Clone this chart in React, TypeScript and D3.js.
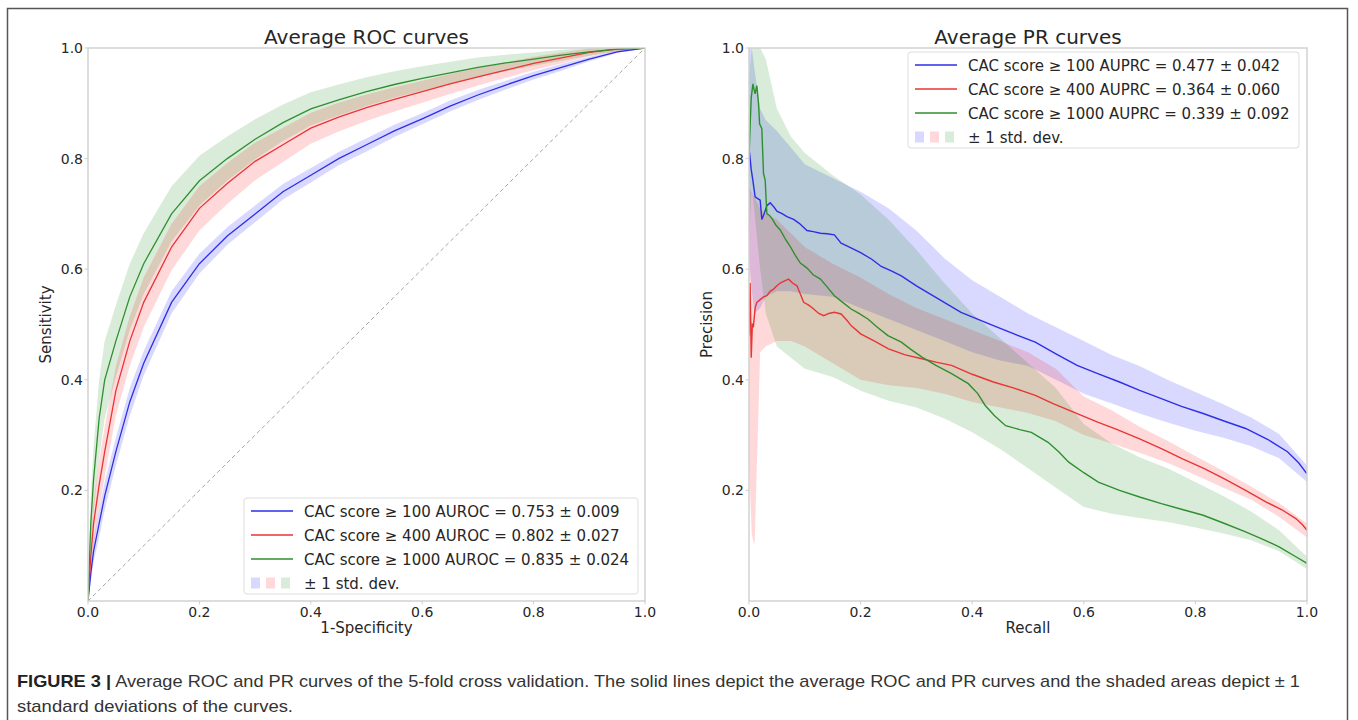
import React from "react";
import * as d3 from "d3";

// ---------- ROC data ----------
const rocFpr = [0, 0.005, 0.01, 0.02, 0.03, 0.05, 0.075, 0.1, 0.15, 0.2, 0.25, 0.3, 0.35, 0.4, 0.45, 0.5, 0.55, 0.6, 0.65, 0.7, 0.75, 0.8, 0.85, 0.9, 0.95, 1.0];
const rocTpr100 = [0, 0.05, 0.09, 0.14, 0.19, 0.27, 0.36, 0.43, 0.54, 0.61, 0.66, 0.70, 0.74, 0.77, 0.80, 0.825, 0.85, 0.872, 0.895, 0.915, 0.933, 0.95, 0.965, 0.98, 0.993, 1];
const rocTpr400 = [0, 0.08, 0.14, 0.21, 0.27, 0.38, 0.47, 0.54, 0.64, 0.71, 0.755, 0.795, 0.825, 0.855, 0.875, 0.892, 0.907, 0.921, 0.935, 0.948, 0.96, 0.972, 0.982, 0.992, 0.998, 1];
const rocTpr1000 = [0, 0.14, 0.22, 0.33, 0.40, 0.47, 0.55, 0.61, 0.70, 0.76, 0.80, 0.835, 0.865, 0.89, 0.906, 0.921, 0.934, 0.945, 0.955, 0.965, 0.973, 0.98, 0.987, 0.993, 0.998, 1];
const rocStd100 = [0, 0.015, 0.02, 0.025, 0.025, 0.025, 0.025, 0.022, 0.02, 0.018, 0.016, 0.015, 0.014, 0.013, 0.012, 0.012, 0.011, 0.01, 0.01, 0.009, 0.008, 0.007, 0.006, 0.004, 0.002, 0];
const rocStd400 = [0, 0.03, 0.04, 0.045, 0.045, 0.045, 0.045, 0.045, 0.042, 0.04, 0.037, 0.034, 0.031, 0.028, 0.026, 0.024, 0.022, 0.02, 0.018, 0.016, 0.014, 0.012, 0.01, 0.007, 0.004, 0];
const rocStd1000 = [0, 0.05, 0.06, 0.07, 0.07, 0.065, 0.06, 0.055, 0.05, 0.045, 0.04, 0.036, 0.033, 0.03, 0.028, 0.026, 0.024, 0.022, 0.02, 0.018, 0.015, 0.012, 0.01, 0.007, 0.004, 0];

// ---------- PR data ----------
const prRec100 = [0, 0.002, 0.004, 0.007, 0.011, 0.015, 0.02, 0.023, 0.027, 0.032, 0.038, 0.045, 0.05, 0.06, 0.068, 0.08, 0.09, 0.104, 0.115, 0.128, 0.14, 0.153, 0.165, 0.18, 0.2, 0.22, 0.237, 0.255, 0.273, 0.3, 0.34, 0.38, 0.438, 0.475, 0.513, 0.55, 0.588, 0.625, 0.664, 0.7, 0.739, 0.775, 0.814, 0.85, 0.89, 0.93, 0.965, 0.985, 1.0];
const prPre100 = [0.818, 0.80, 0.78, 0.76, 0.731, 0.728, 0.725, 0.69, 0.70, 0.715, 0.72, 0.712, 0.705, 0.70, 0.695, 0.69, 0.683, 0.67, 0.668, 0.665, 0.664, 0.662, 0.647, 0.64, 0.63, 0.618, 0.605, 0.597, 0.588, 0.57, 0.546, 0.522, 0.498, 0.483, 0.468, 0.447, 0.426, 0.411, 0.396, 0.381, 0.366, 0.352, 0.339, 0.326, 0.312, 0.292, 0.27, 0.25, 0.23];

const prRec400 = [0, 0.002, 0.004, 0.006, 0.008, 0.011, 0.014, 0.02, 0.026, 0.032, 0.038, 0.044, 0.05, 0.056, 0.062, 0.071, 0.078, 0.086, 0.092, 0.098, 0.107, 0.116, 0.125, 0.134, 0.143, 0.153, 0.165, 0.175, 0.183, 0.2, 0.225, 0.25, 0.28, 0.31, 0.335, 0.363, 0.4, 0.438, 0.475, 0.513, 0.545, 0.573, 0.6, 0.626, 0.66, 0.7, 0.74, 0.777, 0.815, 0.852, 0.89, 0.927, 0.955, 0.98, 0.992, 1.0];
const prPre400 = [0.48, 0.575, 0.44, 0.50, 0.497, 0.53, 0.54, 0.545, 0.55, 0.552, 0.56, 0.564, 0.57, 0.575, 0.578, 0.582, 0.575, 0.57, 0.555, 0.54, 0.535, 0.528, 0.52, 0.516, 0.52, 0.522, 0.519, 0.508, 0.498, 0.483, 0.47, 0.456, 0.445, 0.438, 0.432, 0.426, 0.41, 0.396, 0.385, 0.372, 0.357, 0.345, 0.334, 0.323, 0.31, 0.293, 0.275, 0.257, 0.24, 0.221, 0.2, 0.179, 0.165, 0.149, 0.138, 0.128];

const prRec1000 = [0, 0.002, 0.004, 0.007, 0.009, 0.011, 0.014, 0.017, 0.019, 0.023, 0.026, 0.029, 0.032, 0.036, 0.041, 0.048, 0.056, 0.065, 0.074, 0.083, 0.092, 0.104, 0.115, 0.128, 0.14, 0.153, 0.168, 0.183, 0.197, 0.213, 0.23, 0.249, 0.273, 0.29, 0.31, 0.335, 0.363, 0.393, 0.41, 0.423, 0.44, 0.46, 0.485, 0.506, 0.536, 0.555, 0.573, 0.6, 0.626, 0.664, 0.7, 0.739, 0.775, 0.814, 0.85, 0.89, 0.92, 0.95, 0.98, 1.0];
const prPre1000 = [0.80, 0.86, 0.91, 0.935, 0.925, 0.917, 0.932, 0.90, 0.863, 0.854, 0.773, 0.761, 0.70, 0.698, 0.692, 0.68, 0.671, 0.655, 0.641, 0.625, 0.611, 0.602, 0.59, 0.582, 0.568, 0.552, 0.54, 0.528, 0.52, 0.51, 0.495, 0.48, 0.468, 0.455, 0.441, 0.426, 0.411, 0.393, 0.375, 0.354, 0.335, 0.317, 0.31, 0.305, 0.287, 0.27, 0.251, 0.232, 0.215, 0.2, 0.188, 0.176, 0.166, 0.155, 0.141, 0.125, 0.112, 0.098, 0.08, 0.068];

// std-dev band edges (PR), on their own recall grid
const prBandRec = [0, 0.005, 0.01, 0.02, 0.03, 0.05, 0.075, 0.1, 0.15, 0.2, 0.25, 0.3, 0.35, 0.4, 0.45, 0.5, 0.55, 0.6, 0.65, 0.7, 0.75, 0.8, 0.85, 0.9, 0.95, 1.0];
const prHi100 = [1.0, 1.0, 0.96, 0.89, 0.87, 0.85, 0.82, 0.79, 0.765, 0.74, 0.71, 0.67, 0.62, 0.58, 0.55, 0.52, 0.495, 0.47, 0.445, 0.425, 0.40, 0.378, 0.356, 0.332, 0.302, 0.245];
const prLo100 = [0.62, 0.56, 0.52, 0.53, 0.55, 0.56, 0.56, 0.555, 0.55, 0.53, 0.51, 0.49, 0.47, 0.45, 0.435, 0.425, 0.40, 0.375, 0.357, 0.339, 0.323, 0.308, 0.295, 0.28, 0.258, 0.215];
const prHi400 = [0.75, 0.74, 0.73, 0.71, 0.70, 0.69, 0.665, 0.64, 0.61, 0.585, 0.555, 0.53, 0.51, 0.49, 0.47, 0.45, 0.42, 0.37, 0.345, 0.315, 0.29, 0.262, 0.235, 0.207, 0.177, 0.14];
const prLo400 = [0.25, 0.12, 0.10, 0.45, 0.46, 0.47, 0.47, 0.46, 0.43, 0.40, 0.39, 0.385, 0.375, 0.36, 0.35, 0.34, 0.325, 0.30, 0.285, 0.268, 0.25, 0.228, 0.205, 0.183, 0.152, 0.115];
const prHi1000 = [0.95, 1.0, 1.0, 1.0, 0.98, 0.89, 0.84, 0.81, 0.77, 0.735, 0.69, 0.635, 0.575, 0.52, 0.475, 0.43, 0.385, 0.32, 0.285, 0.26, 0.24, 0.215, 0.19, 0.162, 0.128, 0.08];
const prLo1000 = [0.65, 0.75, 0.70, 0.60, 0.52, 0.46, 0.44, 0.42, 0.405, 0.38, 0.362, 0.35, 0.33, 0.305, 0.275, 0.24, 0.205, 0.17, 0.158, 0.15, 0.143, 0.133, 0.122, 0.11, 0.09, 0.058];

// ---------- labels ----------
const rocLegend = [
  "CAC score \u2265 100 AUROC = 0.753 \u00b1 0.009",
  "CAC score \u2265 400 AUROC = 0.802 \u00b1 0.027",
  "CAC score \u2265 1000 AUROC = 0.835 \u00b1 0.024",
];
const prLegend = [
  "CAC score \u2265 100 AUPRC = 0.477 \u00b1 0.042",
  "CAC score \u2265 400 AUPRC = 0.364 \u00b1 0.060",
  "CAC score \u2265 1000 AUPRC = 0.339 \u00b1 0.092",
];
const stdLabel = "\u00b1 1 std. dev.";
const xTicks = [0, 0.2, 0.4, 0.6, 0.8, 1.0];
const yTicks = [0.2, 0.4, 0.6, 0.8, 1.0];
const captionBold = "FIGURE 3 |";
const captionLine1 = " Average ROC and PR curves of the 5-fold cross validation. The solid lines depict the average ROC and PR curves and the shaded areas depict \u00b1 1";
const captionLine2 = "standard deviations of the curves.";

const LINE = ["#2e2ee6", "#e83535", "#2f8f2f"];
const FILL = ["#0000ff", "#ff0000", "#008000"];
const FILL_OP = 0.15;
const FONT = "'DejaVu Sans', sans-serif";
const SPINE = "#cfcfcf";
const TXT = "#262626";

type Box = { x0: number; x1: number; y0: number; y1: number };

function AxesFrame({ b, x, y, title, xlabel, ylabel }: { b: Box; x: d3.ScaleLinear<number, number>; y: d3.ScaleLinear<number, number>; title: string; xlabel: string; ylabel: string }) {
  const cx = (b.x0 + b.x1) / 2;
  const cy = (b.y0 + b.y1) / 2;
  return (
    <g>
      <rect x={b.x0} y={b.y0} width={b.x1 - b.x0} height={b.y1 - b.y0} fill="none" stroke={SPINE} strokeWidth={1.4} />
      {xTicks.map((t) => (
        <g key={"x" + t}>
          <line x1={x(t)} x2={x(t)} y1={b.y1} y2={b.y1 + 3.5} stroke={SPINE} strokeWidth={1} />
          <text x={x(t)} y={b.y1 + 16} textAnchor="middle" fontFamily={FONT} fontSize={14} fill={TXT}>{t.toFixed(1)}</text>
        </g>
      ))}
      {yTicks.map((t) => (
        <g key={"y" + t}>
          <line x1={b.x0 - 3.5} x2={b.x0} y1={y(t)} y2={y(t)} stroke={SPINE} strokeWidth={1} />
          <text x={b.x0 - 5} y={y(t) + 5} textAnchor="end" fontFamily={FONT} fontSize={14} fill={TXT}>{t.toFixed(1)}</text>
        </g>
      ))}
      <text x={cx} y={44} textAnchor="middle" fontFamily={FONT} fontSize={20} fill={TXT}>{title}</text>
      <text x={cx} y={b.y1 + 32} textAnchor="middle" fontFamily={FONT} fontSize={15} fill={TXT}>{xlabel}</text>
      <text transform={`translate(${b.x0 - 37},${cy}) rotate(-90)`} textAnchor="middle" fontFamily={FONT} fontSize={15} fill={TXT}>{ylabel}</text>
    </g>
  );
}

function Legend({ x, y, w, labels }: { x: number; y: number; w: number; labels: string[] }) {
  const rowH = 24;
  const h = 96;
  return (
    <g>
      <rect x={x} y={y} width={w} height={h} rx={3} fill="#ffffff" fillOpacity={0.8} stroke="#dddddd" strokeWidth={1} />
      {labels.map((l, i) => {
        const cy = y + 13 + i * rowH;
        return (
          <g key={i}>
            <line x1={x + 7} x2={x + 49} y1={cy} y2={cy} stroke={LINE[i]} strokeWidth={1.3} />
            <text x={x + 60} y={cy + 5.5} fontFamily={FONT} fontSize={15} fill={TXT}>{l}</text>
          </g>
        );
      })}
      {FILL.map((c, i) => (
        <rect key={"s" + i} x={x + 7 + i * 15} y={y + 13 + 3 * rowH - 5.5} width={9} height={11} fill={c} fillOpacity={FILL_OP} />
      ))}
      <text x={x + 60} y={y + 13 + 3 * rowH + 5.5} fontFamily={FONT} fontSize={15} fill={TXT}>{stdLabel}</text>
    </g>
  );
}

export default function App() {
  const W = 1358, H = 720;
  const roc: Box = { x0: 88, x1: 645, y0: 48, y1: 601 };
  const pr: Box = { x0: 749, x1: 1307, y0: 48, y1: 601 };
  const xR = d3.scaleLinear().domain([0, 1]).range([roc.x0, roc.x1]);
  const yR = d3.scaleLinear().domain([0, 1]).range([roc.y1, roc.y0]);
  const xP = d3.scaleLinear().domain([0, 1]).range([pr.x0, pr.x1]);
  const yP = d3.scaleLinear().domain([0, 1]).range([pr.y1, pr.y0]);

  const rocMeans = [rocTpr100, rocTpr400, rocTpr1000];
  const rocStds = [rocStd100, rocStd400, rocStd1000];
  const rocLine = (m: number[]) => d3.line<number>().x((_, i) => xR(rocFpr[i])).y((d) => yR(d))(m) || "";
  const rocArea = (m: number[], s: number[]) =>
    d3.area<number>()
      .x((_, i) => xR(rocFpr[i]))
      .y0((d, i) => yR(Math.max(0, d - s[i])))
      .y1((d, i) => yR(Math.min(1, d + s[i])))(m) || "";

  const prRecs = [prRec100, prRec400, prRec1000];
  const prPres = [prPre100, prPre400, prPre1000];
  const prHis = [prHi100, prHi400, prHi1000];
  const prLos = [prLo100, prLo400, prLo1000];
  const prLine = (r: number[], p: number[]) => d3.line<number>().x((d) => xP(d)).y((_, i) => yP(p[i]))(r) || "";
  const prArea = (lo: number[], hi: number[]) =>
    d3.area<number>()
      .x((d) => xP(d))
      .y0((_, i) => yP(lo[i]))
      .y1((_, i) => yP(hi[i]))(prBandRec) || "";

  return (
    <svg width={W} height={H} viewBox={`0 0 ${W} ${H}`} style={{ position: "absolute", left: 0, top: 0, background: "#fff" }}>
      <rect x={0} y={0} width={W} height={H} fill="#ffffff" />
      <path d={`M7.5,${H + 5} V8.5 H1347.5 V${H + 5}`} fill="none" stroke="#555" strokeWidth={1.5} />
      <defs>
        <clipPath id="clipRoc"><rect x={roc.x0} y={roc.y0} width={roc.x1 - roc.x0} height={roc.y1 - roc.y0} /></clipPath>
        <clipPath id="clipPr"><rect x={pr.x0} y={pr.y0} width={pr.x1 - pr.x0} height={pr.y1 - pr.y0} /></clipPath>
      </defs>

      {/* ROC panel */}
      <g clipPath="url(#clipRoc)">
        {rocMeans.map((m, i) => (
          <path key={"ra" + i} d={rocArea(m, rocStds[i])} fill={FILL[i]} fillOpacity={FILL_OP} stroke="none" />
        ))}
        <line x1={xR(0)} y1={yR(0)} x2={xR(1)} y2={yR(1)} stroke="#9a9a9a" strokeWidth={0.9} strokeDasharray="4,3" />
        {rocMeans.map((m, i) => (
          <path key={"rl" + i} d={rocLine(m)} fill="none" stroke={LINE[i]} strokeWidth={1.3} />
        ))}
      </g>
      <AxesFrame b={roc} x={xR} y={yR} title="Average ROC curves" xlabel="1-Specificity" ylabel="Sensitivity" />
      <Legend x={244} y={498} w={394} labels={rocLegend} />

      {/* PR panel */}
      <g clipPath="url(#clipPr)">
        {prHis.map((h, i) => (
          <path key={"pa" + i} d={prArea(prLos[i], h)} fill={FILL[i]} fillOpacity={FILL_OP} stroke="none" />
        ))}
        {prRecs.map((r, i) => (
          <path key={"pl" + i} d={prLine(r, prPres[i])} fill="none" stroke={LINE[i]} strokeWidth={1.4} />
        ))}
      </g>
      <AxesFrame b={pr} x={xP} y={yP} title="Average PR curves" xlabel="Recall" ylabel="Precision" />
      <Legend x={908} y={52} w={391} labels={prLegend} />

      {/* Caption */}
      <text x={17} y={687} fontFamily="'Liberation Sans', Arial, sans-serif" fontSize={17} fill="#333" textLength={1283} lengthAdjust="spacingAndGlyphs">
        <tspan fontWeight="bold" fill="#222">{captionBold}</tspan>
        <tspan>{captionLine1}</tspan>
      </text>
      <text x={17} y={712} fontFamily="'Liberation Sans', Arial, sans-serif" fontSize={17} fill="#333" textLength={276} lengthAdjust="spacingAndGlyphs">
        {captionLine2}
      </text>
    </svg>
  );
}
